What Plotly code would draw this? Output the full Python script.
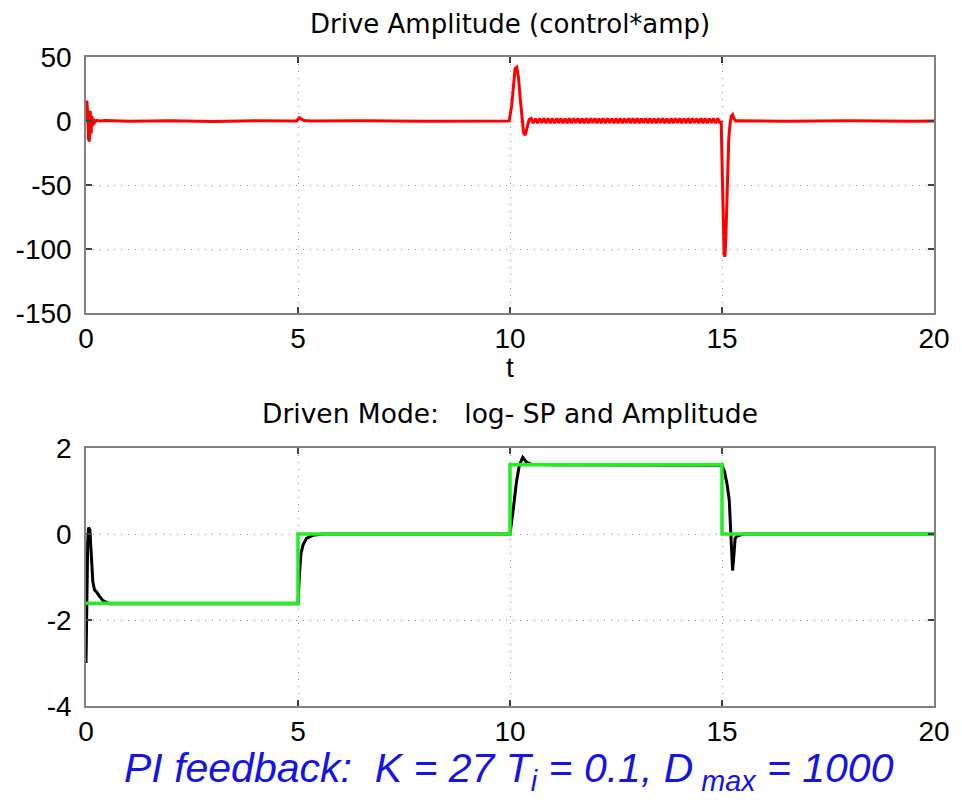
import plotly.graph_objects as go

# ---------------- data ----------------
x_ticks = [0, 5, 10, 15, 20]
x_labels = ["0", "5", "10", "15", "20"]
y1_ticks = [-150, -100, -50, 0, 50]
y1_labels = ["-150", "-100", "-50", "0", "50"]
y2_ticks = [-4, -2, 0, 2]
y2_labels = ["-4", "-2", "0", "2"]

# Drive amplitude (control*amp) - red
drive_t = [
    0.00, 0.02, 0.04, 0.06, 0.08, 0.10, 0.12, 0.14, 0.16, 0.18, 0.21, 0.25, 0.32, 0.45,
    1.0, 2.0, 3.0, 4.0, 4.97, 5.03, 5.08, 5.15, 5.3, 6.5, 8.0, 9.5, 9.98,
    10.04, 10.08, 10.12, 10.16, 10.20, 10.24, 10.28, 10.32, 10.36, 10.40, 10.45,
    10.50, 10.55, 10.60, 10.65, 10.70, 10.75, 10.80, 10.85, 10.90, 10.95,
    11.00, 11.05, 11.10, 11.15, 11.20, 11.25, 11.30, 11.35, 11.40, 11.45,
    11.50, 11.55, 11.60, 11.65, 11.70, 11.75, 11.80, 11.85, 11.90, 11.95,
    12.00, 12.05, 12.10, 12.15, 12.20, 12.25, 12.30, 12.35, 12.40, 12.45,
    12.50, 12.55, 12.60, 12.65, 12.70, 12.75, 12.80, 12.85, 12.90, 12.95,
    13.00, 13.05, 13.10, 13.15, 13.20, 13.25, 13.30, 13.35, 13.40, 13.45,
    13.50, 13.55, 13.60, 13.65, 13.70, 13.75, 13.80, 13.85, 13.90, 13.95,
    14.00, 14.05, 14.10, 14.15, 14.20, 14.25, 14.30, 14.35, 14.40, 14.45,
    14.50, 14.55, 14.60, 14.65, 14.70, 14.75, 14.80, 14.85, 14.90, 14.95,
    14.98, 15.01, 15.03, 15.05, 15.07, 15.09, 15.11, 15.13, 15.16, 15.19,
    15.22, 15.25, 15.28, 15.32, 15.4, 16.5, 18.0, 19.5, 20.0,
]
drive_v = [
    0.0, 16.0, 6.0, -14.0, -16.0, 8.0, -10.0, 4.0, -4.0, 1.5, -1.0, 0.5, 0.0, 0.3,
    -0.2, 0.2, -0.3, 0.2, 0.0, 2.5, 1.5, 0.3, 0.0, 0.2, -0.2, 0.1, 0.0,
    12.0, 30.0, 41.0, 42.0, 34.0, 18.0, 2.0, -9.0, -11.0, -6.0, 1.0,
    2.0, -1.6, 1.9, -1.7, 2.1, -1.5, 2.0, -1.7, 2.0, -1.6,
    1.9, -1.7, 2.0, -1.5, 2.1, -1.7, 1.9, -1.6, 2.0, -1.7,
    2.0, -1.5, 2.0, -1.7, 1.9, -1.6, 2.1, -1.7, 2.0, -1.5,
    2.0, -1.7, 1.9, -1.6, 2.0, -1.7, 2.1, -1.5, 1.9, -1.7,
    2.0, -1.6, 2.0, -1.7, 1.9, -1.5, 2.1, -1.7, 2.0, -1.6,
    2.0, -1.7, 1.9, -1.5, 2.0, -1.7, 2.1, -1.6, 1.9, -1.7,
    2.0, -1.5, 2.0, -1.7, 1.9, -1.6, 2.1, -1.7, 2.0, -1.5,
    2.0, -1.7, 1.9, -1.6, 2.0, -1.7, 2.1, -1.5, 1.9, -1.7,
    2.0, -1.6, 2.0, -1.7, 1.9, -1.5, 2.1, -1.7, 2.0, -1.6,
    0.0, -35.0, -75.0, -104.0, -106.0, -92.0, -68.0, -40.0, -14.0, -2.0,
    4.0, 5.0, 2.0, 0.0, 0.2, -0.2, 0.2, -0.1, 0.0,
]

# Driven mode: log-amplitude (black) and log-setpoint (green)
amp_t = [
    0.00, 0.02, 0.04, 0.06, 0.09, 0.12, 0.16, 0.20, 0.25, 0.32, 0.40, 0.55,
    1.0, 2.0, 3.0, 4.0, 5.00, 5.03, 5.07, 5.12, 5.20, 5.35, 5.60, 7.0, 9.0, 10.00,
    10.08, 10.15, 10.22, 10.30, 10.38, 10.50, 11.0, 12.5, 14.0, 15.00,
    15.06, 15.12, 15.17, 15.20, 15.22, 15.25, 15.28, 15.31, 15.36, 15.50, 17.0, 20.0,
]
amp_v = [
    -3.0, -1.5, -0.2, 0.15, 0.1, -0.4, -1.1, -1.3, -1.35, -1.45, -1.55, -1.62,
    -1.62, -1.62, -1.62, -1.62, -1.62, -1.0, -0.45, -0.25, -0.1, -0.03, 0.0, 0.0, 0.0, 0.0,
    0.6, 1.2, 1.6, 1.78, 1.68, 1.62, 1.61, 1.61, 1.61, 1.6,
    1.45, 1.15, 0.8, 0.1, -0.5, -0.85, -0.5, -0.1, -0.05, 0.0, 0.0, 0.0,
]
sp_t = [0, 5, 5, 10, 10, 15, 15, 20]
sp_v = [-1.61, -1.61, 0.0, 0.0, 1.61, 1.61, 0.0, 0.0]

# ---------------- figure ----------------
W, H = 962, 805
ML, MR, MT, MB = 86, 20, 57, 99
plot_h = H - MT - MB          # 649
y_bottom = H - MB             # 706


def py(ypix):
    return (y_bottom - ypix) / plot_h


def px(xpix):
    return (xpix - ML) / (W - ML - MR)


fig = go.Figure()
fig.add_trace(go.Scatter(x=drive_t, y=drive_v, mode="lines",
                         line=dict(color="#ff0000", width=3),
                         xaxis="x", yaxis="y", showlegend=False))
fig.add_trace(go.Scatter(x=amp_t, y=amp_v, mode="lines",
                         line=dict(color="#000000", width=3),
                         xaxis="x2", yaxis="y2", showlegend=False))
fig.add_trace(go.Scatter(x=sp_t, y=sp_v, mode="lines",
                         line=dict(color="#22ee22", width=3.5),
                         xaxis="x2", yaxis="y2", showlegend=False))

common = dict(
    showline=True, linecolor="#808080", linewidth=1.5, mirror="ticks",
    ticks="inside", ticklen=6, tickcolor="#404040", tickwidth=1.5,
    showgrid=True, gridcolor="#8c8c8c", griddash="1px,6px", gridwidth=1,
    zeroline=False,
    tickfont=dict(family="Liberation Sans", size=28, color="black"),
)

fig.update_layout(
    width=W, height=H,
    margin=dict(l=ML, r=MR, t=MT, b=MB),
    paper_bgcolor="white", plot_bgcolor="white",
    showlegend=False,
    xaxis=dict(domain=[0, 1], range=[0, 20], tickvals=x_ticks, ticktext=x_labels,
               anchor="y", ticklabelstandoff=0, **common),
    yaxis=dict(domain=[py(313), 1], range=[-150, 50], tickvals=y1_ticks, ticktext=y1_labels,
               anchor="x", ticklabelstandoff=7, **common),
    xaxis2=dict(domain=[0, 1], range=[0, 20], tickvals=x_ticks, ticktext=x_labels,
                anchor="y2", ticklabelstandoff=0, **common),
    yaxis2=dict(domain=[0, py(448)], range=[-4, 2], tickvals=y2_ticks, ticktext=y2_labels,
                anchor="x2", ticklabelstandoff=7, **common),
)

fig.add_annotation(text="Drive Amplitude (control*amp)", xref="paper", yref="paper",
                   x=0.5, y=py(24), xanchor="center", yanchor="middle",
                   showarrow=False, font=dict(family="DejaVu Sans", size=26, color="black"))
fig.add_annotation(text="t", xref="paper", yref="paper",
                   x=0.5, y=py(368), xanchor="center", yanchor="middle",
                   showarrow=False, font=dict(family="Liberation Sans", size=28, color="black"))
fig.add_annotation(text="Driven Mode:\u00a0\u00a0 log- SP and Amplitude", xref="paper", yref="paper",
                   x=0.5, y=py(413), xanchor="center", yanchor="middle",
                   showarrow=False, font=dict(family="DejaVu Sans", size=26.5, color="black"))
fig.add_annotation(text="PI feedback:\u00a0 K = 27 T<sub>i</sub> = 0.1, D<sub>\u00a0max</sub> = 1000",
                   xref="paper", yref="paper",
                   x=px(122), y=py(771), xanchor="left", yanchor="middle",
                   showarrow=False,
                   font=dict(family="Liberation Sans", size=41, color="#1414e6", style="italic"))

fig.write_html("out.html")
